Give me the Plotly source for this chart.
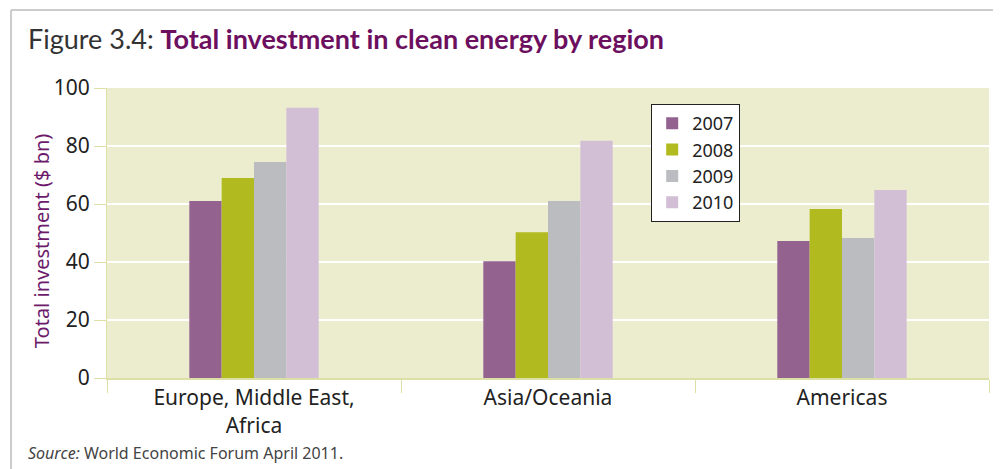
import plotly.graph_objects as go

regions = ['Europe, Middle East,<br>Africa', 'Asia/Oceania', 'Americas']
years = ['2007', '2008', '2009', '2010']
inv_2007 = [61, 40.3, 47.2]
inv_2008 = [69, 50.3, 58.3]
inv_2009 = [74.5, 61, 48.3]
inv_2010 = [93.2, 81.8, 64.8]
y_ticks = [0, 20, 40, 60, 80, 100]

colors = ['#93628f', '#b1bb1f', '#bbbcc0', '#d2bfd6']
series = [inv_2007, inv_2008, inv_2009, inv_2010]

fig = go.Figure()
for yr, vals, col in zip(years, series, colors):
    fig.add_trace(go.Bar(x=regions, y=vals, name=yr, marker_color=col,
                         marker_line_width=0))

font = 'Noto Sans, sans-serif'
# page has an 8px body margin, so the figure is sized to fit the window
fig.update_layout(
    width=993, height=461,
    margin=dict(l=99, r=12, t=80, b=91),
    paper_bgcolor='white',
    plot_bgcolor='#ecedcf',
    font=dict(family=font, color='#222', size=20),
    barmode='group', bargap=0.56, bargroupgap=0,
    showlegend=True,
    legend=dict(x=0.617, y=0.945, xanchor='left', yanchor='top',
                bgcolor='white', bordercolor='#222', borderwidth=1,
                font=dict(size=18, color='#222'), tracegroupgap=0,
                itemwidth=30),
    xaxis=dict(type='category', ticks='outside', tickson='boundaries',
               ticklen=13, tickcolor='#dcdfa6', showline=True,
               linecolor='#dcdfa6', linewidth=2, tickfont=dict(size=21)),
    yaxis=dict(range=[0, 100], tickvals=y_ticks, ticks='outside', ticklen=12,
               tickcolor='#dcdfa6', gridcolor='white', gridwidth=1.5,
               showline=True, linecolor='#dcdfa6', zeroline=False,
               tickfont=dict(size=21)),
)

# y axis title
fig.add_annotation(xref='paper', yref='paper', x=-0.0748, y=0.472,
                   xanchor='center', yanchor='middle', showarrow=False,
                   textangle=-90, text='Total investment ($ bn)',
                   font=dict(size=20, color='#6d1a6b', family=font))

# title and source
fig.add_annotation(xref='paper', yref='paper', x=-0.092, y=1.17,
                   xanchor='left', yanchor='middle', showarrow=False,
                   text="<span style='color:#333'>Figure 3.4: </span>"
                        "<b style='color:#6d0f5f'>Total investment in clean energy by region</b>",
                   font=dict(size=27, family='Lato, sans-serif'))
fig.add_annotation(xref='paper', yref='paper', x=-0.092, y=-0.259,
                   xanchor='left', yanchor='middle', showarrow=False,
                   text='<i>Source:</i> World Economic Forum April 2011.',
                   font=dict(size=16, color='#444', family=font))

# frame lines
fig.add_shape(type='line', xref='paper', yref='paper', x0=-0.1088, x1=1.014,
              y0=1.269, y1=1.269, line=dict(color='#cccccc', width=2))
fig.add_shape(type='line', xref='paper', yref='paper', x0=-0.1088, x1=-0.1088,
              y0=1.269, y1=-0.314, line=dict(color='#cccccc', width=2))

fig.write_html('out.html')
